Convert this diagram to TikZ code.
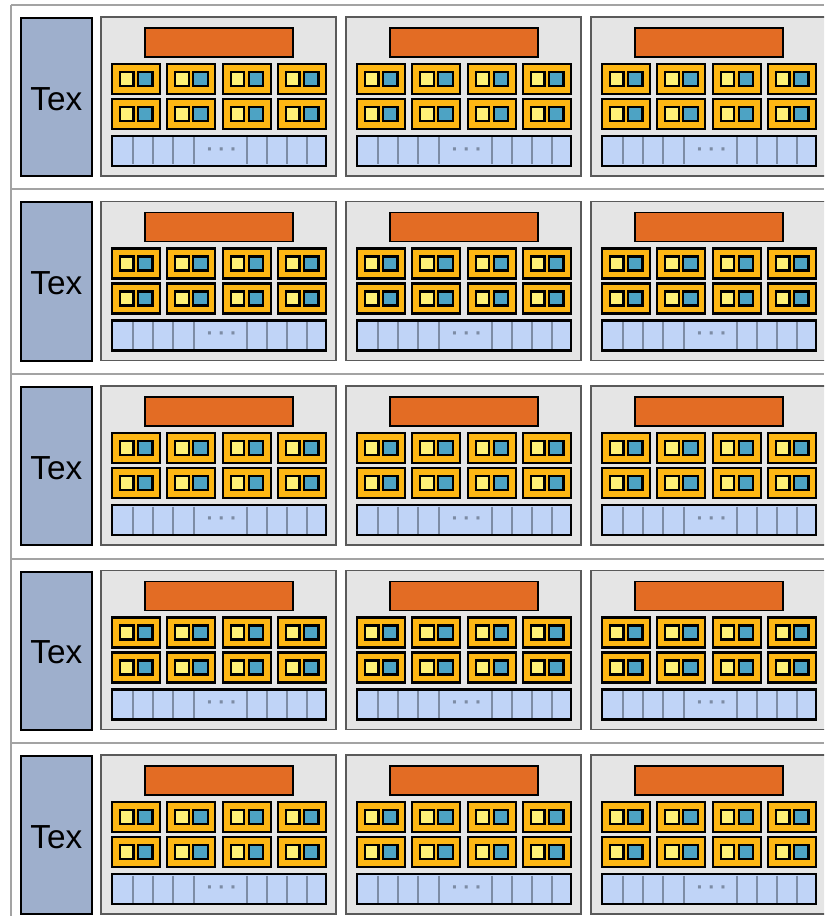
\documentclass[tikz,border=0pt]{standalone}
\usepackage{fontspec}
\setmainfont{Liberation Sans}
\definecolor{framegray}{HTML}{A3A3A3}
\definecolor{texfill}{HTML}{9EAFCC}
\definecolor{smfill}{HTML}{E5E5E5}
\definecolor{smborder}{HTML}{5A5A5A}
\definecolor{issuefill}{HTML}{E36C24}
\definecolor{corefill}{HTML}{FDB714}
\definecolor{alufill}{HTML}{FFF176}
\definecolor{fpufill}{HTML}{4DA3C4}
\definecolor{regfill}{HTML}{C0D4F7}
\definecolor{regline}{HTML}{7D8CA5}
\begin{document}
\begin{tikzpicture}[x=0.75pt, y=-0.75pt,
  frameline/.style={line width=1.5pt, draw=framegray},
  texbox/.style={draw=black, line width=1.5pt, fill=texfill, inner sep=0pt,
    minimum width=53.6pt, minimum height=118.5pt, text height=20pt,
    font=\fontsize{25}{25}\selectfont},
  smbox/.style={draw=smborder, line width=1.3pt, fill=smfill},
  issue/.style={draw=black, line width=1.3pt, fill=issuefill},
  core/.style={draw=black, line width=1.6pt, fill=corefill},
  alu/.style={draw=black, line width=1.6pt, fill=alufill},
  fpu/.style={draw=black, line width=1.6pt, fill=fpufill},
  regfile/.style={draw=black, line width=1.6pt, fill=regfill},
  regdiv/.style={draw=regline, line width=1.3pt},
  dots/.style={text=regline, inner sep=0pt, font=\fontsize{16}{16}\selectfont\bfseries}]
  \useasboundingbox (0,0) rectangle (824,916);
  \clip (0,0) rectangle (824,916);
  % outer frame
  \draw[frameline] (11,5) -- (11,916);
  \foreach \r in {0,...,4} {
    \pgfmathsetmacro{\oy}{\r*184.5}
    % row separator and texture unit
    \draw[frameline] (11,5+\oy) -- (824,5+\oy);
    \node[texbox] (tex-\r) at (56.25,97+\oy) {Tex};
    % three multiprocessors per row
    \foreach \s in {0,1,2} {
      \pgfmathsetmacro{\ox}{101+\s*245}
      \draw[smbox] (\ox,17+\oy) rectangle ++(235,159);
      \draw[issue] (\ox+44,28+\oy) rectangle ++(148,29);
      \foreach \i in {0,...,3} \foreach \j in {0,1} {
        \pgfmathsetmacro{\cx}{\ox+11+\i*55.33}
        \pgfmathsetmacro{\cy}{64+\oy+\j*35}
        \draw[core] (\cx,\cy) rectangle ++(48,30);
        \draw[alu] (\cx+8,\cy+8) rectangle ++(13.5,14);
        \draw[fpu] (\cx+26,\cy+8) rectangle ++(14.5,14);
      }
      % register file
      \draw[regfile] (\ox+11,136+\oy) rectangle ++(214,30);
      \foreach \d in {21,41,61,82,135,155,175,195}
        \draw[regdiv] (\ox+11+\d,137.5+\oy) -- ++(0,27);
      \node[dots] (dots-\r-\s) at (\ox+121,152+\oy) {·\hspace{3.5pt}·\hspace{3.5pt}·};
    }
  }
\end{tikzpicture}
\end{document}
